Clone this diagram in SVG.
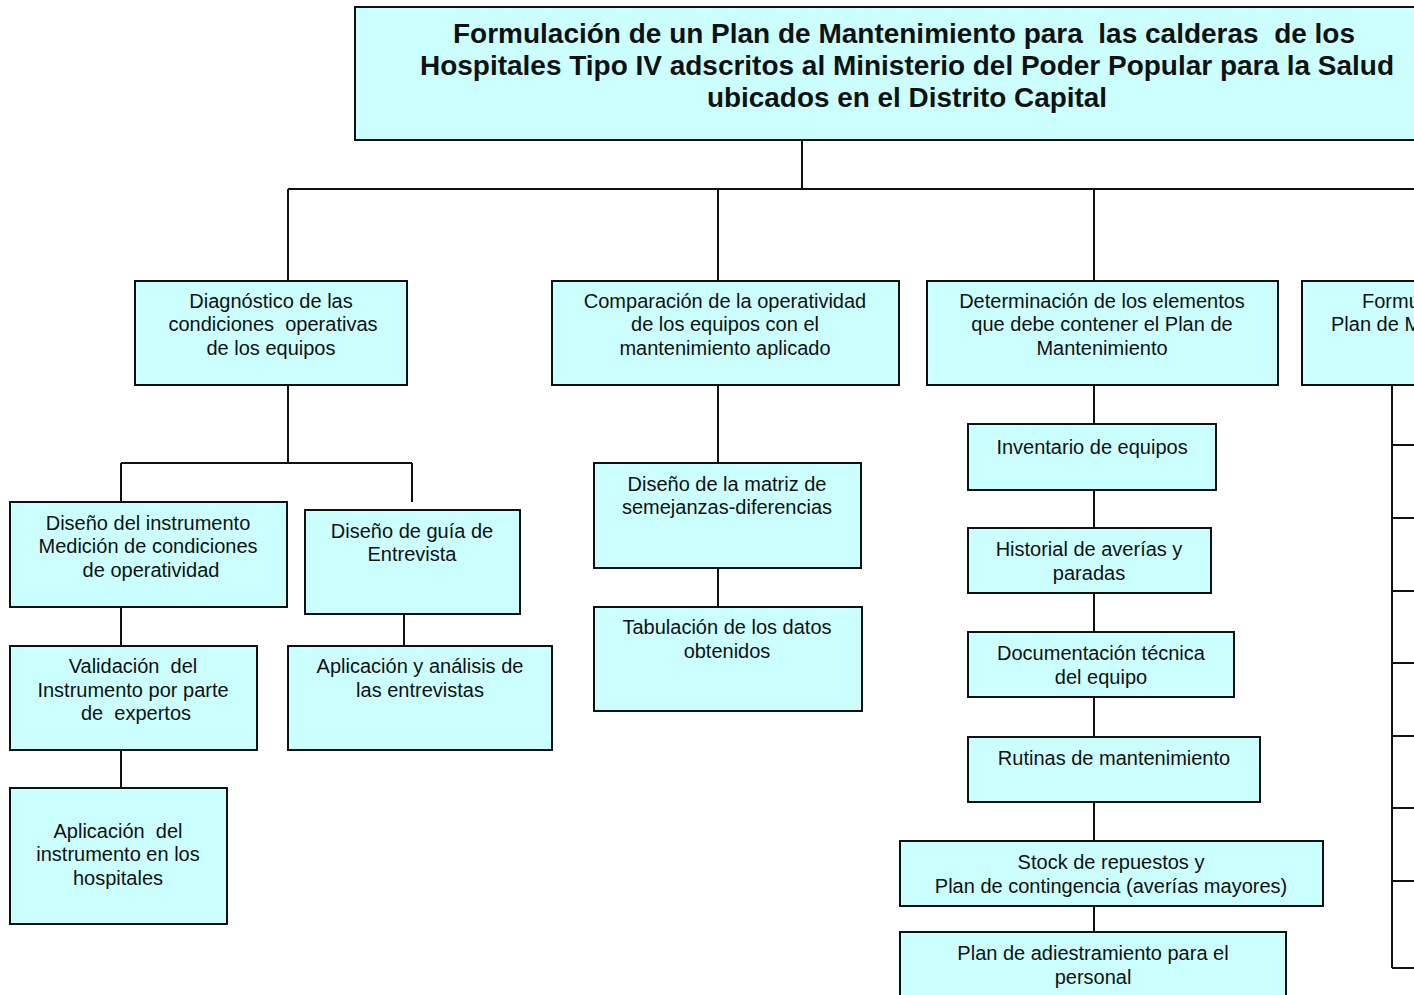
<svg xmlns="http://www.w3.org/2000/svg" width="1414" height="995" viewBox="0 0 1414 995">
<style>
.box{fill:#CCFFFF;stroke:#111;stroke-width:2}
.t{font-family:"Liberation Sans",Arial,sans-serif;font-size:20px;fill:#111;text-anchor:middle;white-space:pre}
.title{font-family:"Liberation Sans",Arial,sans-serif;font-size:28px;font-weight:bold;fill:#111;text-anchor:middle;white-space:pre}
.c{stroke:#111;stroke-width:2;fill:none}
</style>
<rect width="1414" height="995" fill="#fff"/>
<g id="connectors">
<path class="c" d="M802 140V189M288 189H1414M288 189V281M718 189V281M1094 189V281"/>
<path class="c" d="M288 385V463M121 463H412M121 463V502M412 463V502M121 607V646M121 750V788M404 614V646"/>
<path class="c" d="M718 385V463M718 568V607"/>
<path class="c" d="M1094 385V424M1094 490V528M1094 593V632M1094 697V737M1094 802V841M1094 906V932"/>
<path class="c" d="M1392 385V968M1392 445H1414M1392 518H1414M1392 591H1414M1392 663H1414M1392 736H1414M1392 808H1414M1392 881H1414M1392 968H1414"/>
</g>
<g id="title">
<rect class="box" x="355" y="7" width="1070" height="133"/>
<text class="title" x="904" y="43" textLength="902" lengthAdjust="spacingAndGlyphs">Formulación de un Plan de Mantenimiento para  las calderas  de los</text>
<text class="title" x="907" y="75" textLength="974" lengthAdjust="spacingAndGlyphs">Hospitales Tipo IV adscritos al Ministerio del Poder Popular para la Salud</text>
<text class="title" x="907" y="107" textLength="400" lengthAdjust="spacingAndGlyphs">ubicados en el Distrito Capital</text>
</g>
<g id="n-diagnostico">
<rect class="box" x="135" y="281" width="272" height="104"/>
<text class="t" x="271" y="308">Diagnóstico de las</text>
<text class="t" x="273" y="331">condiciones  operativas</text>
<text class="t" x="271" y="355">de los equipos</text>
</g>
<g id="n-comparacion">
<rect class="box" x="552" y="281" width="347" height="104"/>
<text class="t" x="725" y="308">Comparación de la operatividad</text>
<text class="t" x="725" y="331">de los equipos con el</text>
<text class="t" x="725" y="355">mantenimiento aplicado</text>
</g>
<g id="n-determinacion">
<rect class="box" x="927" y="281" width="351" height="104"/>
<text class="t" x="1102" y="308">Determinación de los elementos</text>
<text class="t" x="1102" y="331">que debe contener el Plan de</text>
<text class="t" x="1102" y="355">Mantenimiento</text>
</g>
<g id="n-formulacion">
<rect class="box" x="1302" y="281" width="140" height="104"/>
<text class="t" x="1362" y="308" style="text-anchor:start">Formu</text>
<text class="t" x="1331" y="331" style="text-anchor:start">Plan de M</text>
</g>
<g id="n-diseno-instrumento">
<rect class="box" x="10" y="502" width="277" height="105"/>
<text class="t" x="148" y="530">Diseño del instrumento</text>
<text class="t" x="148" y="553">Medición de condiciones</text>
<text class="t" x="151" y="577">de operatividad</text>
</g>
<g id="n-diseno-guia">
<rect class="box" x="305" y="510" width="215" height="104"/>
<text class="t" x="412" y="538">Diseño de guía de</text>
<text class="t" x="412" y="561">Entrevista</text>
</g>
<g id="n-validacion">
<rect class="box" x="10" y="646" width="247" height="104"/>
<text class="t" x="133" y="673">Validación  del</text>
<text class="t" x="133" y="697">Instrumento por parte</text>
<text class="t" x="136" y="720">de  expertos</text>
</g>
<g id="n-aplicacion-entrevistas">
<rect class="box" x="288" y="646" width="264" height="104"/>
<text class="t" x="420" y="673">Aplicación y análisis de</text>
<text class="t" x="420" y="697">las entrevistas</text>
</g>
<g id="n-aplicacion-instrumento">
<rect class="box" x="10" y="788" width="217" height="136"/>
<text class="t" x="118" y="838">Aplicación  del</text>
<text class="t" x="118" y="861">instrumento en los</text>
<text class="t" x="118" y="885">hospitales</text>
</g>
<g id="n-matriz">
<rect class="box" x="594" y="463" width="267" height="105"/>
<text class="t" x="727" y="491">Diseño de la matriz de</text>
<text class="t" x="727" y="514">semejanzas-diferencias</text>
</g>
<g id="n-tabulacion">
<rect class="box" x="594" y="607" width="268" height="104"/>
<text class="t" x="727" y="634">Tabulación de los datos</text>
<text class="t" x="727" y="658">obtenidos</text>
</g>
<g id="n-inventario">
<rect class="box" x="968" y="424" width="248" height="66"/>
<text class="t" x="1092" y="454">Inventario de equipos</text>
</g>
<g id="n-historial">
<rect class="box" x="968" y="528" width="243" height="65"/>
<text class="t" x="1089" y="556">Historial de averías y</text>
<text class="t" x="1089" y="580">paradas</text>
</g>
<g id="n-documentacion">
<rect class="box" x="968" y="632" width="266" height="65"/>
<text class="t" x="1101" y="660">Documentación técnica</text>
<text class="t" x="1101" y="684">del equipo</text>
</g>
<g id="n-rutinas">
<rect class="box" x="968" y="737" width="292" height="65"/>
<text class="t" x="1114" y="765">Rutinas de mantenimiento</text>
</g>
<g id="n-stock">
<rect class="box" x="900" y="841" width="423" height="65"/>
<text class="t" x="1111" y="869">Stock de repuestos y</text>
<text class="t" x="1111" y="893">Plan de contingencia (averías mayores)</text>
</g>
<g id="n-adiestramiento">
<rect class="box" x="900" y="932" width="386" height="70"/>
<text class="t" x="1093" y="960">Plan de adiestramiento para el</text>
<text class="t" x="1093" y="984">personal</text>
</g>
</svg>
